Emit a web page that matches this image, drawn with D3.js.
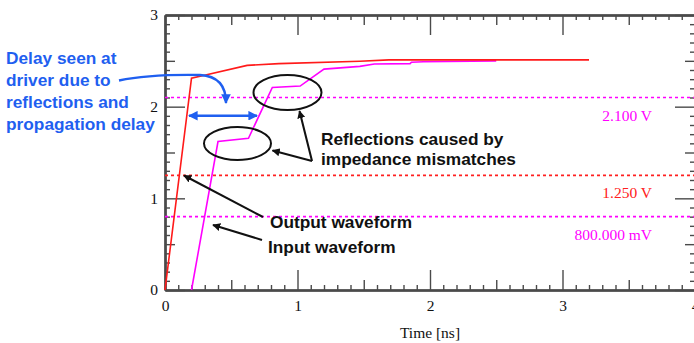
<!DOCTYPE html>
<html>
<head>
<meta charset="utf-8">
<script src="https://cdn.jsdelivr.net/npm/d3@7"></script>
<style>
  html, body { margin: 0; padding: 0; background: #fff; }
  svg { display: block; }
  .tick text { font-family: "Liberation Serif", "Times New Roman", serif; font-size: 15.5px; fill: #111; }
</style>
</head>
<body>
<svg id="chart" width="694" height="343"></svg>
<script>
// Output (driver) waveform: time in ns, voltage in V
const outTime = [0, 0.20, 0.29, 0.62, 0.86, 1.47, 1.69, 3.20];
const outVolt = [0, 2.31, 2.34, 2.45, 2.47, 2.495, 2.51, 2.51];

// Input (receiver) waveform
const inTime = [0.20, 0.40, 0.63, 0.81, 1.02, 1.20, 1.47, 1.58, 1.85, 1.86, 1.95, 2.50];
const inVolt = [0, 1.62, 1.655, 2.21, 2.225, 2.41, 2.44, 2.465, 2.47, 2.485, 2.49, 2.50];

// Threshold markers
const markerLevels = [2.1, 1.25, 0.8];
const markerLabels = ["2.100 V", "1.250 V", "800.000 mV"];
const markerColors = ["#ff00ff", "#ff2020", "#ff00ff"];

// Axis ticks
const xMajor = [0, 1, 2, 3, 4];
const xLabels = ["0", "1", "2", "3", "4"];
const yMajor = [0, 1, 2, 3];
const yLabels = ["0", "1", "2", "3"];
const xTitle = "Time [ns]";

const svg = d3.select("#chart");
const x = d3.scaleLinear().domain([0, 4]).range([165, 695]);
const y = d3.scaleLinear().domain([0, 3]).range([290, 15]);

const halfSteps = (lo, hi) => d3.range(lo + 0.5, hi, 1);
const tenthSteps = (lo, hi) => d3.range(lo * 10, hi * 10 + 1)
  .filter(v => v % 5 !== 0).map(v => v / 10);

const serif = '"Liberation Serif", "Times New Roman", serif';
const sans = '"Liberation Sans", Arial, Helvetica, sans-serif';
const axisColor = "#4a4a4a";
const boldSize = 17.3;

// Axis frame: inward ticks of three lengths on every side
function drawAxis(maker, scale, transform, values, size, labels) {
  const ax = maker(scale).tickValues(values).tickSizeInner(-size).tickSizeOuter(0)
    .tickFormat(labels ? (d, i) => labels[i] : () => "");
  const g = svg.append("g").attr("transform", transform).call(ax);
  g.selectAll(".tick line").attr("stroke", axisColor).attr("stroke-width", 1.4);
  g.select(".domain").attr("stroke", axisColor).attr("stroke-width", 2);
  return g;
}

const sides = [
  { maker: d3.axisBottom, scale: x, t: "translate(0,290)", major: xMajor, labels: xLabels, pad: 10 },
  { maker: d3.axisTop, scale: x, t: "translate(0,15)", major: xMajor, labels: null },
  { maker: d3.axisLeft, scale: y, t: "translate(165,0)", major: yMajor, labels: yLabels, pad: 7 },
  { maker: d3.axisRight, scale: y, t: "translate(695,0)", major: yMajor, labels: null }
];
sides.forEach(s => {
  const lo = s.major[0], hi = s.major[s.major.length - 1];
  drawAxis(s.maker, s.scale, s.t, tenthSteps(lo, hi), 5, null);
  drawAxis(s.maker, s.scale, s.t, halfSteps(lo, hi), 10, null);
  const g = drawAxis(s.maker, s.scale, s.t, s.major, 20, s.labels);
  if (s.labels) {
    g.selectAll(".tick text").attr("fill", "#111");
    if (s.maker === d3.axisBottom) g.selectAll(".tick text").attr("y", s.pad);
    else g.selectAll(".tick text").attr("x", -s.pad);
  }
});

svg.append("text")
  .attr("x", x(2)).attr("y", 338)
  .attr("text-anchor", "middle")
  .attr("font-family", serif).attr("font-size", 15.5).attr("fill", "#111")
  .text(xTitle);

// Threshold lines and labels
markerLevels.forEach((v, i) => {
  svg.append("line")
    .attr("x1", x(0)).attr("x2", x(4))
    .attr("y1", y(v)).attr("y2", y(v))
    .attr("stroke", markerColors[i]).attr("stroke-width", 1.6)
    .attr("stroke-dasharray", "3,3");
  svg.append("text")
    .attr("x", 652).attr("y", y(v) + 23)
    .attr("text-anchor", "end")
    .attr("font-family", serif).attr("font-size", 15.5)
    .attr("fill", markerColors[i])
    .text(markerLabels[i]);
});

// Waveforms
const line = d3.line().x(d => x(d[0])).y(d => y(d[1]));
svg.append("path")
  .datum(d3.zip(inTime, inVolt))
  .attr("d", line).attr("fill", "none")
  .attr("stroke", "#ff00ff").attr("stroke-width", 1.6);
svg.append("path")
  .datum(d3.zip(outTime, outVolt))
  .attr("d", line).attr("fill", "none")
  .attr("stroke", "#ff1a1a").attr("stroke-width", 1.6);

// Arrowhead markers
const defs = svg.append("defs");
function marker(id, color) {
  defs.append("marker")
    .attr("id", id).attr("viewBox", "0 0 10 10")
    .attr("refX", 9).attr("refY", 5)
    .attr("markerWidth", 4).attr("markerHeight", 4)
    .attr("markerUnits", "strokeWidth")
    .attr("orient", "auto-start-reverse")
    .append("path").attr("d", "M0,0 L10,5 L0,10 Z").attr("fill", color);
}
marker("headBlue", "#1f5ff0");
marker("headBlack", "#111");

// Delay annotation (blue)
const blue = "#1f5ff0";
const delayLines = ["Delay seen at", "driver due to", "reflections and", "propagation delay"];
const blueText = svg.append("text")
  .attr("font-family", sans).attr("font-weight", "bold").attr("font-size", boldSize)
  .attr("fill", blue);
delayLines.forEach((s, i) => {
  blueText.append("tspan").attr("x", 6).attr("y", 64 + i * 22).text(s);
});
svg.append("path")
  .attr("d", "M119,80.5 C140,76 170,74.5 200,75 C220,76 226,88 226,103")
  .attr("fill", "none").attr("stroke", blue).attr("stroke-width", 2.4)
  .attr("marker-end", "url(#headBlue)");
svg.append("line")
  .attr("x1", 189).attr("x2", 257).attr("y1", 115.7).attr("y2", 115.7)
  .attr("stroke", blue).attr("stroke-width", 2.4)
  .attr("marker-start", "url(#headBlue)").attr("marker-end", "url(#headBlue)");

// Reflection callouts (black)
const ink = "#111";
[[287.5, 92.5, 34, 17.5], [237.5, 143.5, 33.5, 16.5]].forEach(e => {
  svg.append("ellipse")
    .attr("cx", e[0]).attr("cy", e[1]).attr("rx", e[2]).attr("ry", e[3])
    .attr("fill", "none").attr("stroke", ink).attr("stroke-width", 2);
});
const arrows = [
  [312, 161, 299.5, 111],
  [312, 161, 272.5, 150.5],
  [263, 217, 184, 175.5],
  [262, 240, 213, 225]
];
arrows.forEach(a => {
  svg.append("line")
    .attr("x1", a[0]).attr("y1", a[1]).attr("x2", a[2]).attr("y2", a[3])
    .attr("stroke", ink).attr("stroke-width", 2)
    .attr("marker-end", "url(#headBlack)");
});

const callouts = [
  ["Reflections caused by", 321, 145],
  ["impedance mismatches", 321, 165],
  ["Output waveform", 270, 228],
  ["Input waveform", 268, 253]
];
callouts.forEach(c => {
  svg.append("text")
    .attr("x", c[1]).attr("y", c[2])
    .attr("font-family", sans).attr("font-weight", "bold").attr("font-size", boldSize)
    .attr("fill", ink).text(c[0]);
});
</script>
</body>
</html>
